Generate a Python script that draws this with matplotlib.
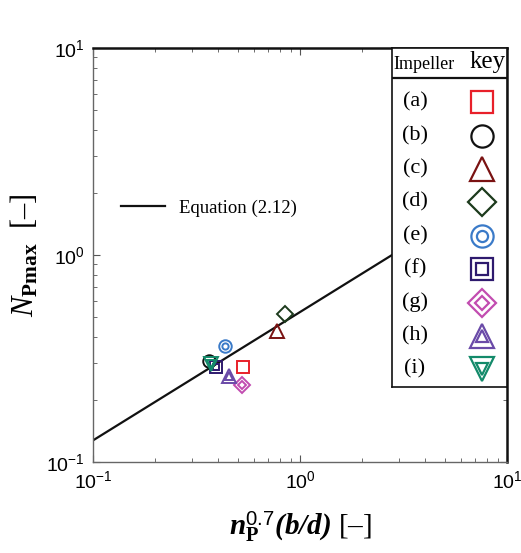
import matplotlib
matplotlib.use("Agg")
import matplotlib.pyplot as plt
import numpy as np

plt.rcParams['font.family'] = 'Liberation Sans'
plt.rcParams['mathtext.fontset'] = 'custom'
plt.rcParams['mathtext.rm'] = 'Liberation Serif'
plt.rcParams['mathtext.it'] = 'Liberation Serif:italic'
plt.rcParams['mathtext.bf'] = 'Liberation Serif:bold'
plt.rcParams['mathtext.bfit'] = 'Liberation Serif:italic:bold'
plt.rcParams['mathtext.sf'] = 'Liberation Sans'

# measured maximum power numbers for each impeller
impellers = ['(a)', '(b)', '(c)', '(d)', '(e)', '(f)', '(g)', '(h)', '(i)']
x_vals = [0.531, 0.363, 0.774, 0.847, 0.435, 0.393, 0.525, 0.454, 0.372]
y_vals = [0.288, 0.308, 0.427, 0.521, 0.365, 0.288, 0.236, 0.261, 0.299]
markers = ['s', 'o', '^', 'D', 'o', 's', 'D', '^', 'v']
colors = ['#e8202a', '#111111', '#7a1212', '#1c3a1c', '#3a7ac8',
          '#2e1a6e', '#c24cb0', '#6a4aa8', '#138a6a']
double = [False, False, False, False, True, True, True, True, True]

# Equation (2.12): N_Pmax = coef * x ** expo
coef, expo = 0.53, 0.62
x_line = np.array([0.1, 10.0])

fig = plt.figure(figsize=(5.21, 5.53), dpi=100)
ax = fig.add_axes([0.1785, 0.1646, 0.7946, 0.7486])
ax.set_xscale('log')
ax.set_yscale('log')
ax.set_xlim(0.1, 10)
ax.set_ylim(0.1, 10)

eq, = ax.plot(x_line, coef * x_line ** expo, color='#111111', lw=1.6,
              label='Equation (2.12)', zorder=2)

size_scale = {'s': 1.0, 'o': 1.0, 'D': 0.92, '^': 1.12, 'v': 1.12}


def draw_marker(a, x, y, m, c, dbl, size, mew, **kw):
    ms = size * size_scale[m]
    a.plot(x, y, m, ms=ms, mfc='none', mec=c, mew=mew, **kw)
    if dbl:
        a.plot(x, y, m, ms=ms * 0.5, mfc='none', mec=c, mew=mew, **kw)


for x, y, m, c, d in zip(x_vals, y_vals, markers, colors, double):
    draw_marker(ax, x, y, m, c, d, 9, 1.4, zorder=3)

leg = ax.legend(handles=[eq], loc='center left', bbox_to_anchor=(0.028, 0.613),
                frameon=False, handlelength=2.3, handletextpad=0.75,
                prop={'family': 'Liberation Serif', 'size': 13.5})

for side in ['left', 'bottom']:
    ax.spines[side].set_color('#666666')
    ax.spines[side].set_linewidth(1.0)
for side in ['top', 'right']:
    ax.spines[side].set_color('#111111')
    ax.spines[side].set_linewidth(1.8)

ax.tick_params(which='both', direction='in', top=True, right=True,
               color='#555555', labelsize=14)
ax.tick_params(which='major', length=5, pad=6)
ax.tick_params(which='minor', length=3, labelleft=False, labelbottom=False)

ax.set_xlabel(r'$\mathbfit{n}_{\mathbf{P}}^{\mathsf{0.7}}\mathbfit{(b/d)}\ \mathrm{[–]}$',
              fontsize=21, labelpad=12)
ax.set_ylabel(r'$\mathit{N}_{\mathbf{Pmax}}\ \ \mathrm{[–]}$', fontsize=22,
              labelpad=4)

# impeller key table
kx = fig.add_axes([392 / 521, 1 - 387 / 553, 115 / 521, 339 / 553], zorder=5)
kx.set_facecolor('white')
kx.set_xlim(0, 1)
kx.set_ylim(8.53, -1.62)
kx.set_xticks([])
kx.set_yticks([])
for s in kx.spines.values():
    s.set_linewidth(1.2)
    s.set_color('#111111')
kx.axhline(-0.72, color='#111111', lw=1.6)
kx.text(0.28, -1.13, 'Impeller', family='Liberation Serif', fontsize=13,
        ha='center', va='center')
kx.text(0.83, -1.2, 'key', family='Liberation Serif', fontsize=18,
        ha='center', va='center')
for i, (lab, m, c, d) in enumerate(zip(impellers, markers, colors, double)):
    kx.text(0.2, i, lab, family='Liberation Serif', fontsize=16,
            ha='center', va='center')
    draw_marker(kx, 0.78, i, m, c, d, 16, 1.6)

fig.savefig('out.png', dpi=100)
